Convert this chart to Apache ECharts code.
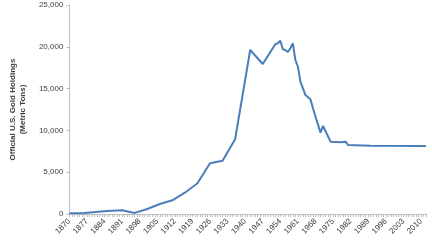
<!DOCTYPE html>
<html><head><meta charset="utf-8">
<script src="https://cdn.jsdelivr.net/npm/echarts@6/dist/echarts.min.js"></script>
<style>html,body{margin:0;padding:0;background:#fff}#c{width:432px;height:240px}</style>
</head><body><div id="c"></div>
<script>
// vertex years and values (metric tons)
const pointYears = [1870,1876,1885,1891,1896,1901,1906,1911,1916,1921,1926,1931,1936,1942,1947,1952,1953,1954,1955,1956,1957,1958,1959,1960,1961,1962,1964,1966,1967,1968,1970,1971,1974,1978,1980,1981,1990,2012];
const pointValues = [100,110,360,440,130,600,1200,1640,2550,3670,6060,6380,8940,19620,17940,20300,20420,20730,19700,19620,19380,19820,20420,18420,17620,15830,14230,13720,12640,11640,9730,10530,8650,8580,8650,8250,8170,8140];
const firstYear = 1870, lastYear = 2012;
const yTicks = [0,5000,10000,15000,20000,25000];

const categories = [];
for (let y = firstYear; y <= lastYear; y++) categories.push(String(y));
const seriesData = categories.map(c => {
  const i = pointYears.indexOf(+c);
  return i >= 0 ? pointValues[i] : null;
});

const chart = echarts.init(document.getElementById('c'), null, {renderer:'canvas'});
chart.setOption({
  animation:false,
  grid:{left:52,right:6,top:5,bottom:26,containLabel:false},
  xAxis:{
    type:'category', data:categories, boundaryGap:false,
    axisLine:{lineStyle:{color:'#bfbfbf',width:1}},
    axisTick:{show:true,interval:0,length:3,lineStyle:{color:'#bfbfbf'}},
    axisLabel:{interval:6,rotate:45,fontSize:8,color:'#404040',fontFamily:'Liberation Sans',margin:6}
  },
  yAxis:{
    type:'value', min:yTicks[0], max:yTicks[yTicks.length-1], interval:5000,
    name:'Official U.S. Gold Holdings\n(Metric Tons)', nameLocation:'middle', nameGap:33,
    nameTextStyle:{fontSize:8,fontWeight:'bold',color:'#404040',fontFamily:'Liberation Sans',lineHeight:10},
    axisLine:{show:true,lineStyle:{color:'#bfbfbf'}},
    axisTick:{show:true,length:3,lineStyle:{color:'#bfbfbf'}},
    splitLine:{show:false},
    axisLabel:{fontSize:8,color:'#404040',fontFamily:'Liberation Sans',margin:6,
      formatter:v=>v.toLocaleString('en-US')}
  },
  series:[{type:'line',data:seriesData,connectNulls:true,showSymbol:false,symbol:'none',
    lineStyle:{color:'#4a7ebb',width:2},itemStyle:{color:'#4a7ebb'}}]
});
</script></body></html>
